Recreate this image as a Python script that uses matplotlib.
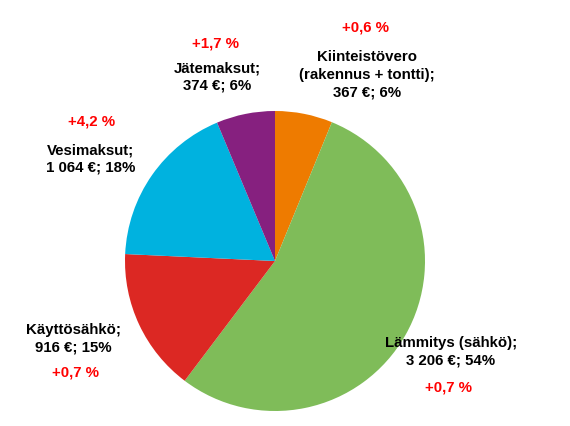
import matplotlib
matplotlib.use("Agg")
import matplotlib.pyplot as plt

categories = ["Kiinteistövero\n(rakennus + tontti)", "Lämmitys (sähkö)", "Käyttösähkö", "Vesimaksut", "Jätemaksut"]
values = [367, 3206, 916, 1064, 374]
value_labels = ["367 €", "3 206 €", "916 €", "1 064 €", "374 €"]
pct_labels = ["6%", "54%", "15%", "18%", "6%"]
changes = ["+0,6 %", "+0,7 %", "+0,7 %", "+4,2 %", "+1,7 %"]
colors = ["#EE7B00", "#7FBC59", "#DC2823", "#00B2DF", "#86207F"]

plt.rcParams['font.family'] = ['Liberation Sans', 'DejaVu Sans']

W, H = 570, 427
fig = plt.figure(figsize=(W / 100, H / 100), dpi=100)
ax = fig.add_axes([0, 0, 1, 1])

cx, cy, r = 275, 262, 150
wedges, _ = ax.pie(values, colors=colors, startangle=90, counterclock=False,
                   center=(cx, -cy), radius=r, frame=True)
# flip to y-down coords
for w in wedges:
    w.set_center((cx, cy))
    t1, t2 = w.theta1, w.theta2
    w.set_theta1(-t2)
    w.set_theta2(-t1)
ax.set_xlim(0, W)
ax.set_ylim(H, 0)
ax.set_aspect('equal')
ax.axis('off')

# label positions (pixel coordinates, y from top)
label_pos = [(367, 75), (451, 352), (73, 339), (91, 159), (217, 77)]
change_pos = [(365, 28), (448, 388), (75, 373), (92, 122), (215, 43)]

for i in range(len(values)):
    txt = f"{categories[i]};\n{value_labels[i]}; {pct_labels[i]}"
    ax.text(label_pos[i][0], label_pos[i][1], txt, ha='center', va='center',
            fontsize=10.8, fontweight='bold', color='black', linespacing=1.32)
    ax.text(change_pos[i][0], change_pos[i][1], changes[i], ha='center', va='center',
            fontsize=10.8, fontweight='bold', color='#FF0000')

fig.savefig("out.png", dpi=100)
